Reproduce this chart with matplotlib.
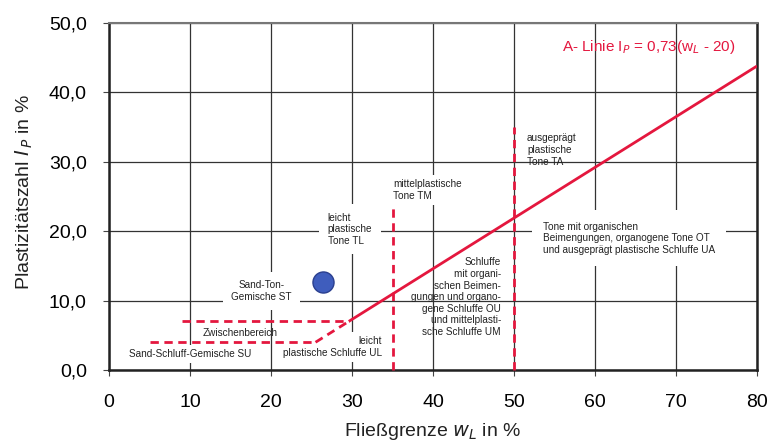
import matplotlib
matplotlib.use("Agg")
import matplotlib.pyplot as plt

plt.rcParams['font.family'] = ['Liberation Sans', 'DejaVu Sans']

# ---- data ----
x_ticks = [0, 10, 20, 30, 40, 50, 60, 70, 80]
y_ticks = [0, 10, 20, 30, 40, 50]
y_tick_labels = ["0,0", "10,0", "20,0", "30,0", "40,0", "50,0"]

aline_dashed_x = [25.5, 29.6]
aline_dashed_y = [4.0, 7.0]
aline_solid_x = [29.6, 80.0]
aline_solid_y = [7.0, 43.8]

h7_x = [9.0, 29.6]
h7_y = [7.0, 7.0]
h4_x = [5.0, 25.5]
h4_y = [4.0, 4.0]

v35_x = [35, 35]
v35_y = [0, 23.3]
v50_x = [50, 50]
v50_y = [0, 35.0]

sample_x = [26.4]
sample_y = [12.7]

RED = '#e4173e'
TXT = '#222222'

fig = plt.figure(figsize=(7.71, 4.46), dpi=100)
ax = fig.add_axes([109/771, 76/446, (757-109)/771, (370-23)/446])
ax.set_xlim(0, 80)
ax.set_ylim(0, 50)

ax.set_xticks(x_ticks)
ax.set_xticklabels([str(v) for v in x_ticks], fontsize=14)
ax.set_yticks(y_ticks)
ax.set_yticklabels(y_tick_labels, fontsize=14)
ax.tick_params(axis='x', length=4, width=0.8, color='#444', pad=13)
ax.tick_params(axis='y', length=4, width=0.8, color='#444', pad=12)
ax.grid(True, color='#333333', linewidth=0.9, zorder=0)
ax.set_axisbelow(True)
for s in ['left', 'bottom', 'right']:
    ax.spines[s].set_linewidth(1.8)
    ax.spines[s].set_color('#222')
ax.spines['top'].set_linewidth(1.5)
ax.spines['top'].set_color('#777')

# lines
ax.plot(aline_solid_x, aline_solid_y, color=RED, lw=2, zorder=4, solid_capstyle='butt')
ax.plot(aline_dashed_x, aline_dashed_y, color=RED, lw=2, ls=(0, (3, 2)), zorder=4)
ax.plot(h7_x, h7_y, color=RED, lw=2, ls=(0, (3, 2)), zorder=4)
ax.plot(h4_x, h4_y, color=RED, lw=2, ls=(0, (3, 2)), zorder=4)
ax.plot(v35_x, v35_y, color=RED, lw=2, ls=(0, (3, 2)), zorder=4, clip_on=False)
ax.plot(v50_x, v50_y, color=RED, lw=2, ls=(0, (3, 2)), zorder=4, clip_on=False)

ax.scatter(sample_x, sample_y, s=230, color='#3f5dbd', edgecolor='#2a3f8f', linewidth=1, zorder=5)

fs = 7.2
ax.text(77.3, 46.5, r"A- Linie I$_P$ = 0,73(w$_L$ - 20)", color=RED, fontsize=11, ha='right', va='center', zorder=6)
ax.text(51.6, 31.7, "ausgeprägt\nplastische\nTone TA", fontsize=fs, color=TXT, ha='left', va='center', linespacing=1.2, zorder=6)
ax.text(35.1, 25.9, "mittelplastische\nTone TM", fontsize=fs, color=TXT, ha='left', va='center', linespacing=1.2, bbox=dict(facecolor='white', edgecolor='none', pad=3), zorder=6)
ax.text(27.0, 20.3, "leicht\nplastische\nTone TL", fontsize=fs, color=TXT, ha='left', va='center', linespacing=1.2, bbox=dict(facecolor='white', edgecolor='none', pad=6), zorder=3)
ax.text(18.8, 11.4, "Sand-Ton-\nGemische ST", fontsize=fs, color=TXT, ha='center', va='center', linespacing=1.2, bbox=dict(facecolor='white', edgecolor='none', pad=6), zorder=3)
ax.text(16.2, 5.3, "Zwischenbereich", fontsize=fs, color=TXT, ha='center', va='center', zorder=6)
ax.text(10.0, 2.3, "Sand-Schluff-Gemische SU", fontsize=fs, color=TXT, ha='center', va='center', bbox=dict(facecolor='white', edgecolor='none', pad=3), zorder=3)
ax.text(33.7, 3.3, "leicht\nplastische Schluffe UL", fontsize=fs, color=TXT, ha='right', va='center', linespacing=1.2, bbox=dict(facecolor='white', edgecolor='none', pad=3), zorder=3, multialignment='right')
ax.text(48.4, 10.5, "Schluffe\nmit organi-\nschen Beimen-\ngungen und organo-\ngene Schluffe OU\nund mittelplasti-\nsche Schluffe UM", fontsize=fs, color=TXT, ha='right', va='center', linespacing=1.2, multialignment='right', zorder=6)
ax.text(53.6, 19.0, "Tone mit organischen\nBeimengungen, organogene Tone OT\nund ausgeprägt plastische Schluffe UA", fontsize=fs, color=TXT, ha='left', va='center', linespacing=1.2, bbox=dict(facecolor='white', edgecolor='none', pad=8), zorder=3)

fig.text(24/771, 1 - 192/446, r"Plastizitätszahl $I_{\,P}$ in %", rotation=90, fontsize=14, ha='center', va='center', color='#222')
fig.text(433/771, 1 - 432/446, r"Fließgrenze $w_L$ in %", fontsize=14, ha='center', va='center', color='#222')

fig.savefig("out.png", dpi=100)
